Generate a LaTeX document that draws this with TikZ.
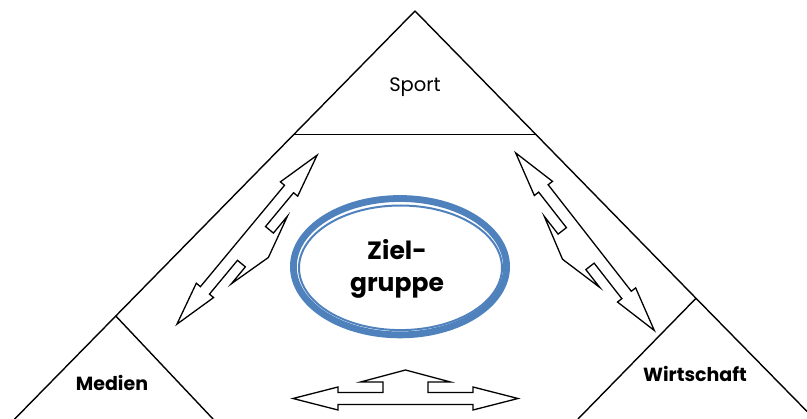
\documentclass[tikz,border=0pt]{standalone}
\usepackage{fontspec}
\setmainfont{Poppins}
\usetikzlibrary{calc}
\definecolor{zgblue}{RGB}{79,129,189}
\newcommand\lrupshape{%
  \draw[arrowshape] (-112.5,0) -- (-67.5,11.5) -- (-67.5,6) -- (-22.5,6) -- (-22.5,16.5) -- (-45,16.5) -- (0,28.5)
    -- (45,16.5) -- (22.5,16.5) -- (22.5,6) -- (67.5,6) -- (67.5,11.5) -- (112.5,0)
    -- (67.5,-11.5) -- (67.5,-6) -- (-67.5,-6) -- (-67.5,-11.5) -- cycle;}
\begin{document}
\begin{tikzpicture}[x=1pt,y=-1pt,
  edge/.style={draw=black,line width=1.4pt,line cap=round,line join=round},
  arrowshape/.style={draw=black,fill=white,line width=1.3pt,line join=miter},
  lbl/.style={inner sep=0pt,font=\bfseries\fontsize{19}{22}\selectfont}]
\useasboundingbox (0,0) rectangle (807,419);
\clip (0,0) rectangle (807,419);
% corner points
\coordinate (apex) at (415,11);
\coordinate (sl) at (294,134.3);
\coordinate (sr) at (535.7,134.3);
\coordinate (ma) at (115.8,316);
\coordinate (mb) at (213,419);
\coordinate (bl) at (14.7,419);
\coordinate (wa) at (696,298.3);
\coordinate (wb) at (578,419);
\coordinate (br) at (807,411.4);
% outlines
\draw[edge] (bl) -- (ma) -- (sl) -- (apex) -- (sr) -- (wa) -- (br);
\draw[edge] (sl) -- (sr);
\draw[edge] (ma) -- (mb);
\draw[edge] (wa) -- (wb);
% labels
\node[inner sep=0pt,font=\fontsize{19.5}{22}\selectfont] (sport) at (415,87) {Sport};
\node[lbl] (medien) at (112,383) {Medien};
\node[lbl] (wirt) at (695,374) {Wirtschaft};
% ellipse
\node[inner sep=0pt,align=center,font=\bfseries\fontsize{25}{32}\selectfont] (zg) at (397,269) {Ziel-\\gruppe};
\draw[zgblue,line width=6.8pt] (400,266.7) ellipse [x radius=106.6, y radius=68.2];
\draw[zgblue,line width=2pt] (400.5,267.8) ellipse [x radius=101.5, y radius=62.3];
% arrows
\begin{scope}[shift={(247,239.7)},x={(0.623pt,0.751pt)},y={(0.751pt,-0.623pt)}]
  \lrupshape
\end{scope}
\begin{scope}[shift={(585,241.7)},x={(0.616pt,-0.789pt)},y={(-0.789pt,-0.616pt)}]
  \lrupshape
\end{scope}
\begin{scope}[shift={(405.5,398.5)},x={(-1pt,0pt)},y={(0pt,1pt)}]
  \lrupshape
\end{scope}
\end{tikzpicture}
\end{document}
